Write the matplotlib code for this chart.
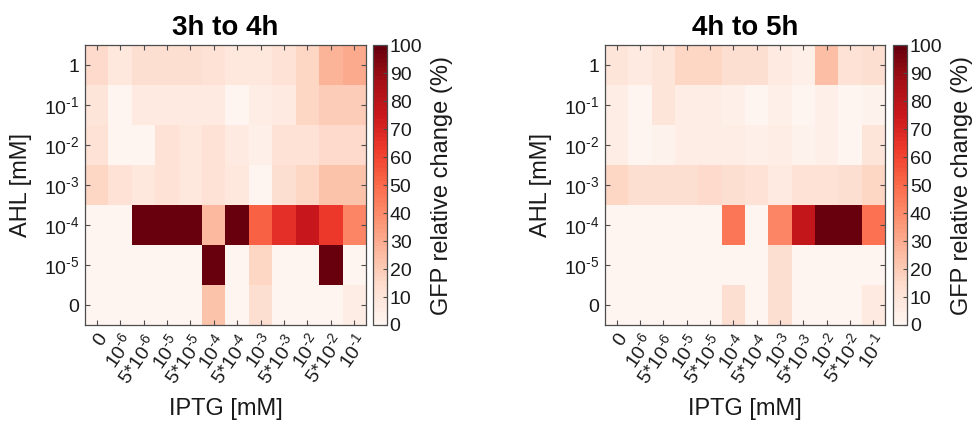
import numpy as np
import matplotlib
matplotlib.use("Agg")
import matplotlib.pyplot as plt

plt.rcParams['font.family'] = ['Liberation Sans', 'DejaVu Sans']
plt.rcParams['mathtext.fontset'] = 'custom'
plt.rcParams['mathtext.rm'] = 'Liberation Sans'
plt.rcParams['mathtext.it'] = 'Liberation Sans:italic'
plt.rcParams['mathtext.bf'] = 'Liberation Sans:bold'

# IPTG (columns) and AHL (rows, bottom to top)
iptg_labels = ['0', r'$10^{\text{-}6}$', r'$5$*$10^{\text{-}6}$', r'$10^{\text{-}5}$', r'$5$*$10^{\text{-}5}$',
               r'$10^{\text{-}4}$', r'$5$*$10^{\text{-}4}$', r'$10^{\text{-}3}$', r'$5$*$10^{\text{-}3}$',
               r'$10^{\text{-}2}$', r'$5$*$10^{\text{-}2}$', r'$10^{\text{-}1}$']
ahl_labels = ['0', r'$10^{\text{-}5}$', r'$10^{\text{-}4}$', r'$10^{\text{-}3}$', r'$10^{\text{-}2}$',
              r'$10^{\text{-}1}$', '1']

titles = ['3h to 4h', '4h to 5h']

# GFP relative change (%), rows: AHL = 0, 1e-5, 1e-4, 1e-3, 1e-2, 1e-1, 1
change_3h_4h = [
    [0, 0, 0, 0, 0, 22, 0, 14, 0, 0, 0, 5],
    [0, 0, 0, 0, 0, 110, 0, 17, 0, 0, 110, 0],
    [0, 0, 110, 110, 110, 25, 110, 52, 67, 75, 64, 41],
    [17, 12, 8, 11, 8, 11, 8, 1, 13, 16, 22, 22],
    [11, 1, 1, 12, 8, 11, 7.5, 4, 11, 11, 15.5, 15.5],
    [10, 1.5, 7.5, 7.5, 7.5, 7.5, 0.5, 5, 7, 16, 19, 19],
    [15, 8, 13, 13, 13, 11, 8, 8, 11, 16, 27, 31],
]
change_4h_5h = [
    [0, 0, 0, 0, 0, 12.5, 0, 12.5, 0, 0, 0, 7.5],
    [0, 0, 0, 0, 0, 0, 0, 12.5, 0, 0, 0, 0],
    [0, 0, 0, 0, 0, 46, 0, 41, 78, 110, 110, 47],
    [16, 12.5, 13, 13, 15.5, 13, 12, 7.5, 11, 11, 13.5, 16],
    [5.5, 1, 2.5, 5.5, 5.5, 5.5, 4, 5.5, 2, 4.5, 1, 10],
    [5.5, 0.5, 10, 5, 5, 4, 1, 4.5, 1, 4, 1.5, 3],
    [10, 7.5, 10, 16, 16, 13, 13, 7.5, 4, 24, 12, 14],
]

cmap = plt.get_cmap('Reds', 64)
edge = '#4d4d4d'
txt = '#1a1a1a'

fig = plt.figure(figsize=(9.72, 4.24), dpi=100)
ax_pos = [[0.0875, 0.2335, 0.289, 0.660], [0.6224, 0.2335, 0.288, 0.660]]
cb_pos = [[0.3837, 0.2335, 0.0144, 0.660], [0.9187, 0.2335, 0.0144, 0.660]]

for k, data in enumerate([change_3h_4h, change_4h_5h]):
    ax = fig.add_axes(ax_pos[k])
    im = ax.imshow(np.array(data), cmap=cmap, vmin=0, vmax=100,
                   origin='lower', aspect='auto', interpolation='nearest')
    ax.set_xticks(np.arange(len(iptg_labels)))
    ax.set_xticklabels(iptg_labels, rotation=55, ha='right', va='top',
                       rotation_mode='anchor', fontsize=14, color=txt)
    ax.set_yticks(np.arange(len(ahl_labels)))
    ax.set_yticklabels(ahl_labels, fontsize=14, color=txt)
    ax.tick_params(direction='in', length=3.5, width=0.8, color=edge,
                   top=True, right=True, pad=4)
    for s in ax.spines.values():
        s.set_color(edge)
        s.set_linewidth(0.9)
    ax.set_title(titles[k], fontsize=20, fontweight='bold', pad=7)
    ax.set_xlabel('IPTG [mM]', fontsize=17, color=txt)
    ax.xaxis.set_label_coords(0.5, -0.26)
    ax.set_ylabel('AHL [mM]', fontsize=17, color=txt)
    ax.yaxis.set_label_coords(-0.19, 0.5)

    cax = fig.add_axes(cb_pos[k])
    cb = fig.colorbar(im, cax=cax)
    cb.set_ticks(np.arange(0, 101, 10))
    cb.ax.tick_params(direction='in', length=3, width=0.8, color=edge,
                      labelsize=14, labelcolor=txt, pad=2)
    cb.outline.set_edgecolor(edge)
    cb.outline.set_linewidth(0.9)
    cb.set_label('GFP relative change (%)', fontsize=17, color=txt, labelpad=6)

fig.savefig('out.png', dpi=100)
